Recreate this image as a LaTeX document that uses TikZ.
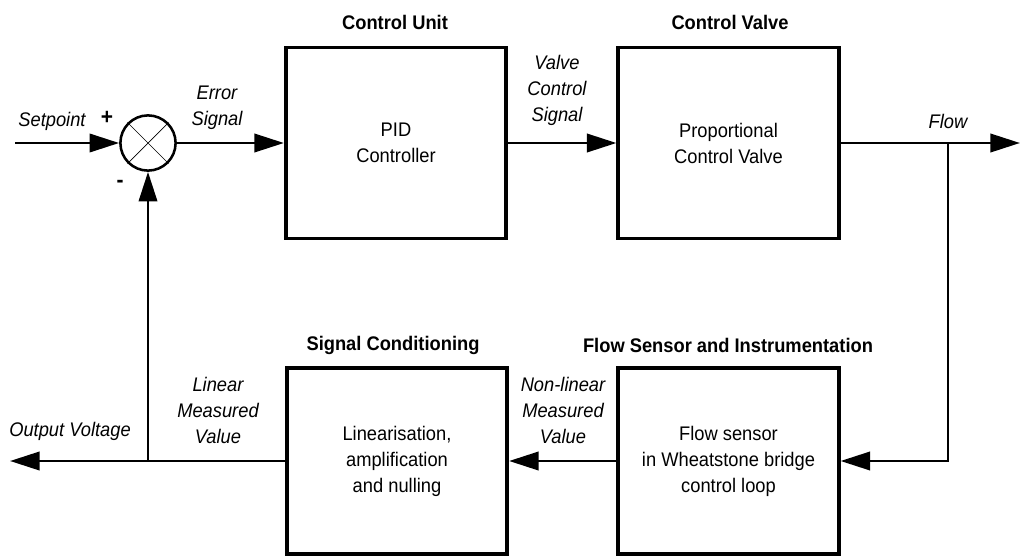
\documentclass[tikz,border=0pt]{standalone}
\usepackage{fontspec}
\setmainfont{Liberation Sans}[FakeStretch=0.93]
\usetikzlibrary{arrows.meta,positioning}

\begin{document}
\begin{tikzpicture}[x=0.025cm,y=-0.025cm,
    block/.style={draw,line width=2.6pt,minimum width=5.51cm,align=center,
        font=\fontsize{14}{18.5}\selectfont},
    title/.style={font=\bfseries\fontsize{14}{16}\selectfont},
    sig/.style={align=center,font=\itshape\fontsize{14}{18.5}\selectfont},
    flow/.style={line width=2pt,-{Triangle[length=21pt,width=13pt]}}]
    \useasboundingbox (0,0) rectangle (1020,559);
    % blocks
    \node[block,minimum height=4.78cm] (pid) at (396,143) {PID\\Controller};
    \node[block,minimum height=4.78cm] (valve) at (728.5,143) {Proportional\\Control Valve};
    \node[block,minimum height=4.66cm] (cond) at (397,461) {Linearisation,\\amplification\\and nulling};
    \node[block,minimum height=4.66cm] (sensor) at (728.5,461) {Flow sensor\\in Wheatstone bridge\\control loop};
    \node[title] (pidtitle) at (395,22) {Control Unit};
    \node[title] (valvetitle) at (730,22) {Control Valve};
    \node[title] (condtitle) at (393,345) {Signal Conditioning};
    \node[title] (sensortitle) at (728,345) {Flow Sensor and Instrumentation};
    % summing junction
    \node[draw,circle,line width=1.8pt,minimum size=1.38cm] (sum) at (148,143) {};
    \draw[line width=0.5pt] (sum.45)--(sum.225) (sum.135)--(sum.-45);
    % connectors
    \coordinate (setpoint) at (15,143);
    \coordinate (flowend) at (1020,143);
    \coordinate (tap) at (948,143);
    \coordinate (outend) at (10,461);
    \coordinate (back) at (148,461);
    \draw[flow] (setpoint)--(sum.west);
    \draw[flow] (sum.east)--(pid.west);
    \draw[flow] (pid.east)--(valve.west);
    \draw[flow] (valve.east)--(flowend);
    \draw[flow] (tap)|-(sensor.east);
    \draw[flow] (sensor.west)--(cond.east);
    \draw[flow] (cond.west)--(outend);
    \draw[flow] (back)--(sum.south);
    % signal labels
    \node[sig] (setlabel) at (52,121) {Setpoint};
    \node[font=\bfseries\fontsize{16}{16}\selectfont] (plus) at (107,118) {+};
    \node[font=\bfseries\fontsize{16}{16}\selectfont] (minus) at (120,184) {-};
    \node[sig] (errlabel) at (217,108) {Error\\Signal};
    \node[sig] (vcslabel) at (557,90) {Valve\\Control\\Signal};
    \node[sig] (flowlabel) at (948,121) {Flow};
    \node[sig] (linlabel) at (218,410) {Linear\\Measured\\Value};
    \node[sig] (outlabel) at (70,431) {Output Voltage};
    \node[sig] (nonlinlabel) at (563,410) {Non-linear\\Measured\\Value};
\end{tikzpicture}
\end{document}
